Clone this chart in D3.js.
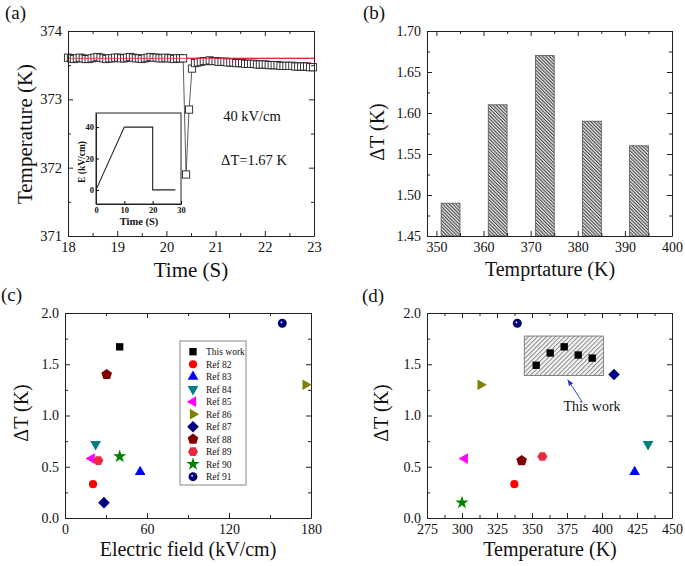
<!DOCTYPE html>
<html>
<head>
<meta charset="utf-8">
<script src="https://cdn.jsdelivr.net/npm/d3@7"></script>
<style>
  body { margin: 0; background: #fff; }
  svg text { font-family: 'Liberation Serif', 'Times New Roman', serif; fill: #111; }
</style>
</head>
<body>
<svg id="fig" width="685" height="566"></svg>
<script>
// ---- (a) temperature vs time, sampled every aStep seconds from aStart
const aStart = 18.0, aStep = 0.06;
const aTemps = [
  373.61, 373.60, 373.59, 373.60, 373.61, 373.60, 373.59, 373.59, 373.60, 373.61,
  373.62, 373.61, 373.60, 373.59, 373.60, 373.60, 373.61, 373.61, 373.60, 373.60,
  373.61, 373.62, 373.61, 373.60, 373.60, 373.59, 373.60, 373.61, 373.62, 373.61,
  373.61, 373.60, 373.60, 373.61, 373.60, 373.60, 373.59, 373.60, 373.60, 373.60,
  371.90, 372.85, 373.45,
  373.53, 373.54, 373.55, 373.56, 373.56, 373.57, 373.56, 373.56, 373.55, 373.55,
  373.55, 373.54, 373.54, 373.54, 373.53, 373.53, 373.53, 373.52, 373.52, 373.52,
  373.52, 373.51, 373.51, 373.51, 373.51, 373.50, 373.50, 373.50, 373.50, 373.49,
  373.49, 373.49, 373.49, 373.49, 373.48, 373.48, 373.48, 373.48, 373.48, 373.47, 373.47
];
const aBaseline = 373.6;
const aXTicks = [18, 19, 20, 21, 22, 23];
const aYTicks = [371, 372, 373, 374];

// inset: applied field profile
const insetTime = [0, 10, 20, 20, 28];
const insetField = [0, 40, 40, 0, 0];
const insetXTicks = [0, 10, 20, 30];
const insetYTicks = [0, 20, 40];

// ---- (b) ΔT at each temperature
const bTemps = [353, 363, 373, 383, 393];
const bDeltaT = [1.49, 1.61, 1.67, 1.59, 1.56];
const bXTicks = [350, 360, 370, 380, 390, 400];
const bYTicks = [1.45, 1.50, 1.55, 1.60, 1.65, 1.70];

// ---- (c) & (d) comparison with literature
const refNames = ["Ref 82", "Ref 83", "Ref 84", "Ref 85", "Ref 86", "Ref 87", "Ref 88", "Ref 89", "Ref 90", "Ref 91"];
const refShapes = ["circle", "up", "down", "left", "right", "diamond", "pentagon", "hexagon", "star", "sphere"];
const refColors = ["#ff0000", "#0000ff", "#008080", "#ff00ff", "#808000", "#000080", "#800000", "#e8293f", "#008000", "#000080"];
const refField = [20.5, 55, 22.4, 19.5, 176, 28.5, 30.5, 24.4, 40, 159];
const refDeltaTc = [0.33, 0.45, 0.72, 0.58, 1.30, 0.15, 1.40, 0.56, 0.60, 1.90];
const refTemp = [337.4, 423.3, 432.9, 302, 313.3, 408.6, 342.6, 357.4, 300, 339.5];
const refDeltaTd = [0.33, 0.45, 0.72, 0.58, 1.30, 1.40, 0.56, 0.60, 0.15, 1.90];
const workField = 40, workDeltaT = 1.67;
const cXTicks = [0, 60, 120, 180];
const cYTicks = [0, 0.5, 1.0, 1.5, 2.0];
const dXTicks = [275, 300, 325, 350, 375, 400, 425, 450];

const SERIF = "'Liberation Serif', 'Times New Roman', serif";
const svg = d3.select("#fig");
const defs = svg.append("defs");

// hatch for the bars in (b)
const hb = defs.append("pattern").attr("id", "hatchB").attr("patternUnits", "userSpaceOnUse")
  .attr("width", 2.4).attr("height", 10).attr("patternTransform", "rotate(-45)");
hb.append("rect").attr("width", 2.4).attr("height", 10).attr("fill", "#e6e6e6");
hb.append("rect").attr("width", 1.1).attr("height", 10).attr("fill", "#4a4a4a");
// lighter hatch for the box in (d)
const hd = defs.append("pattern").attr("id", "hatchD").attr("patternUnits", "userSpaceOnUse")
  .attr("width", 3.2).attr("height", 10).attr("patternTransform", "rotate(45)");
hd.append("rect").attr("width", 3.2).attr("height", 10).attr("fill", "#f4f4f4");
hd.append("rect").attr("width", 1).attr("height", 10).attr("fill", "#8a8a8a");
// shaded sphere: navy with a small highlight
const sg = defs.append("radialGradient").attr("id", "sphere").attr("cx", "40%").attr("cy", "40%").attr("r", "55%");
sg.append("stop").attr("offset", "0%").attr("stop-color", "#ffffff");
sg.append("stop").attr("offset", "10%").attr("stop-color", "#d0d0f0");
sg.append("stop").attr("offset", "28%").attr("stop-color", "#000090");
sg.append("stop").attr("offset", "100%").attr("stop-color", "#000060");

// polygon path with n corners, radius r, first corner at angle a (deg)
function poly(n, r, a) {
  const pts = d3.range(n).map(i => {
    const t = (a + i * 360 / n) * Math.PI / 180;
    return [r * Math.cos(t), r * Math.sin(t)];
  });
  return "M" + pts.join("L") + "Z";
}

function marker(g, kind, color, cx, cy) {
  let p;
  switch (kind) {
    case "square": p = poly(4, 5.2, 45); break;
    case "circle": p = d3.symbol(d3.symbolCircle, 52)(); break;
    case "up": p = poly(3, 6.2, -90); break;
    case "down": p = poly(3, 6.2, 90); break;
    case "left": p = poly(3, 6.2, 180); break;
    case "right": p = poly(3, 6.2, 0); break;
    case "diamond": p = poly(4, 5.8, -90); break;
    case "pentagon": p = poly(5, 5.6, -90); break;
    case "hexagon": p = poly(6, 5, 0); break;
    case "star": p = d3.symbol(d3.symbolStar, 55)(); break;
    case "sphere": p = d3.symbol(d3.symbolCircle, 62)(); break;
  }
  g.append("path").attr("d", p)
    .attr("transform", `translate(${cx},${cy})`)
    .attr("fill", kind === "sphere" ? "url(#sphere)" : color);
}

// box with inward ticks on all four sides, labels on bottom and left
function frame(g, x, y, xt, xm, yt, ym, xf, yf, fs) {
  const [x0, x1] = x.range(), [y0, y1] = y.range();
  const sides = [
    [d3.axisBottom(x), `translate(0,${y0})`, xt, xm, xf],
    [d3.axisTop(x), `translate(0,${y1})`, xt, xm, null],
    [d3.axisLeft(y), `translate(${x0},0)`, yt, ym, yf],
    [d3.axisRight(y), `translate(${x1},0)`, yt, ym, null]
  ];
  sides.forEach(([ax, tr, major, minor, fmt]) => {
    const a = g.append("g").attr("transform", tr)
      .call(ax.tickValues(major).tickSizeInner(-5).tickSizeOuter(0).tickPadding(6)
        .tickFormat(fmt ? fmt : () => ""));
    a.attr("font-family", SERIF);
    a.select(".domain").attr("stroke", "#222");
    a.selectAll(".tick line").attr("stroke", "#222");
    a.selectAll("text").attr("font-size", fs || 14).attr("fill", "#111");
    if (minor) {
      const m = g.append("g").attr("transform", tr)
        .call(ax.tickValues(minor).tickSizeInner(-3).tickFormat(() => ""));
      m.select(".domain").remove();
      m.selectAll(".tick line").attr("stroke", "#222");
    }
  });
}

function label(txt, x, y, size, opts) {
  const t = svg.append("text").attr("x", x).attr("y", y).attr("font-size", size)
    .attr("font-family", SERIF)
    .attr("text-anchor", (opts && opts.anchor) || "middle").text(txt);
  if (opts && opts.rotate) t.attr("transform", `rotate(-90,${x},${y})`);
  if (opts && opts.bold) t.attr("font-weight", "bold");
  return t;
}

// ================= (a)
{
  const g = svg.append("g");
  const x = d3.scaleLinear().domain([18, 23]).range([68, 314]);
  const y = d3.scaleLinear().domain([371, 374]).range([236, 31]);
  const pts = aTemps.map((v, i) => [aStart + i * aStep, v]);

  g.append("line").attr("x1", x(18)).attr("x2", x(23))
    .attr("y1", y(aBaseline)).attr("y2", y(aBaseline))
    .attr("stroke", "#e03030").attr("stroke-width", 1.2);
  g.append("path").datum(pts)
    .attr("d", d3.line().x(d => x(d[0])).y(d => y(d[1])))
    .attr("fill", "none").attr("stroke", "#333").attr("stroke-width", 0.8);
  g.selectAll("rect.pt").data(pts).enter().append("rect").attr("class", "pt")
    .attr("x", d => x(d[0]) - 3.6).attr("y", d => y(d[1]) - 3.6)
    .attr("width", 7.2).attr("height", 7.2)
    .attr("fill", "#fff").attr("stroke", "#222").attr("stroke-width", 0.9);
  // baseline shows through the squares in the original
  g.append("line").attr("x1", x(18)).attr("x2", x(23))
    .attr("y1", y(aBaseline)).attr("y2", y(aBaseline))
    .attr("stroke", "#e03030").attr("stroke-width", 1).attr("opacity", 0.8);

  frame(g, x, y, aXTicks, d3.range(18.5, 23, 1), aYTicks, [371.5, 372.5, 373.5],
    d3.format("d"), d3.format("d"), 14.5);

  // inset
  const ix = d3.scaleLinear().domain([0, 30]).range([96, 181]);
  const iy = d3.scaleLinear().domain([-9, 49]).range([204, 113]);
  g.append("rect").attr("x", 96).attr("y", 113).attr("width", 85).attr("height", 91)
    .attr("fill", "#fff").attr("stroke", "#222");
  const ia = g.append("g").attr("transform", "translate(0,204)")
    .call(d3.axisBottom(ix).tickValues(insetXTicks).tickSizeInner(-3).tickSizeOuter(0).tickPadding(3));
  const ib = g.append("g").attr("transform", "translate(96,0)")
    .call(d3.axisLeft(iy).tickValues(insetYTicks).tickSizeInner(-3).tickSizeOuter(0).tickPadding(2));
  [ia, ib].forEach(a => {
    a.attr("font-family", SERIF);
    a.select(".domain").attr("stroke", "#222");
    a.selectAll("text").attr("font-size", 8.5).attr("font-weight", "bold");
  });
  g.append("path").datum(d3.zip(insetTime, insetField))
    .attr("d", d3.line().x(d => ix(d[0])).y(d => iy(d[1])))
    .attr("fill", "none").attr("stroke", "#222").attr("stroke-width", 1.1);
  label("Time (S)", 139, 225, 10.5, { bold: true });
  label("E (kV/cm)", 85, 162, 9.5, { bold: true, rotate: true });

  label("40 kV/cm", 252, 121, 14.5);
  label("\u0394T=1.67 K", 254, 165, 14.5);
  label("Time (S)", 191, 277, 21);
  label("Temperature (K)", 32, 134, 21, { rotate: true });
  label("(a)", 5, 19, 19, { anchor: "start" });
}

// ================= (b)
{
  const g = svg.append("g");
  const x = d3.scaleLinear().domain([348, 400]).range([427, 672]);
  const y = d3.scaleLinear().domain([1.45, 1.70]).range([236, 31]);
  const w = x(4) - x(0);
  g.selectAll("rect.bar").data(d3.zip(bTemps, bDeltaT)).enter().append("rect")
    .attr("x", d => x(d[0]) - w / 2).attr("width", w)
    .attr("y", d => y(d[1])).attr("height", d => y(1.45) - y(d[1]))
    .attr("fill", "url(#hatchB)").attr("stroke", "#555").attr("stroke-width", 0.8);
  frame(g, x, y, bXTicks, d3.range(355, 400, 10), bYTicks, d3.range(1.475, 1.7, 0.05),
    d3.format("d"), d3.format(".2f"), 14);
  label("\u0394T (K)", 384, 132, 20, { rotate: true });
  label("Temprtature (K)", 550, 276, 20);
  label("(b)", 363, 19, 19, { anchor: "start" });
}

// ================= (c)
{
  const g = svg.append("g");
  const x = d3.scaleLinear().domain([0, 180]).range([65, 311]);
  const y = d3.scaleLinear().domain([0, 2]).range([518, 313]);
  frame(g, x, y, cXTicks, [30, 90, 150], cYTicks, [0.25, 0.75, 1.25, 1.75],
    d3.format("d"), d3.format(".1f"), 14);
  marker(g, "square", "#000", x(workField), y(workDeltaT));
  refNames.forEach((n, i) => marker(g, refShapes[i], refColors[i], x(refField[i]), y(refDeltaTc[i])));

  // legend
  const lg = g.append("g");
  lg.append("rect").attr("x", 180).attr("y", 341).attr("width", 66).attr("height", 144)
    .attr("fill", "#fff").attr("stroke", "#888");
  const names = ["This work"].concat(refNames);
  const shapes = ["square"].concat(refShapes);
  const colors = ["#000"].concat(refColors);
  names.forEach((n, i) => {
    const yy = 351.7 + i * 12.5;
    marker(lg, shapes[i], colors[i], 193, yy);
    lg.append("text").attr("x", 206).attr("y", yy + 3.5).attr("font-size", 9.5)
      .attr("font-family", SERIF).text(n);
  });
  label("\u0394T (K)", 28, 413, 20, { rotate: true });
  label("Electric field (kV/cm)", 188, 556, 20);
  label("(c)", 1, 301, 19, { anchor: "start" });
}

// ================= (d)
{
  const g = svg.append("g");
  const x = d3.scaleLinear().domain([275, 450]).range([427, 672]);
  const y = d3.scaleLinear().domain([0, 2]).range([518, 313]);
  frame(g, x, y, dXTicks, d3.range(287.5, 450, 25), cYTicks, [0.25, 0.75, 1.25, 1.75],
    d3.format("d"), d3.format(".1f"), 14);
  // shaded box around this work
  g.append("rect").attr("x", x(344.5)).attr("y", y(1.775))
    .attr("width", x(401) - x(344.5)).attr("height", y(1.39) - y(1.775))
    .attr("fill", "url(#hatchD)").attr("stroke", "#777").attr("stroke-width", 0.9);
  bTemps.forEach((t, i) => marker(g, "square", "#000", x(t), y(bDeltaT[i])));
  refNames.forEach((n, i) => marker(g, refShapes[i], refColors[i], x(refTemp[i]), y(refDeltaTd[i])));

  // arrow to the box
  const ax0 = x(386), ay0 = y(1.13), ax1 = x(375.5), ay1 = y(1.35);
  g.append("line").attr("x1", ax0).attr("y1", ay0).attr("x2", ax1).attr("y2", ay1)
    .attr("stroke", "#2233cc").attr("stroke-width", 0.9);
  const ang = Math.atan2(ay1 - ay0, ax1 - ax0);
  const head = [[0, 0], [-6, -2.5], [-6, 2.5]].map(([px, py]) =>
    [ax1 + px * Math.cos(ang) - py * Math.sin(ang), ay1 + px * Math.sin(ang) + py * Math.cos(ang)]);
  g.append("path").attr("d", "M" + head.join("L") + "Z").attr("fill", "#2233cc");
  label("This work", 592, 411, 14);

  label("\u0394T (K)", 388, 413, 20, { rotate: true });
  label("Temperature (K)", 550, 556, 20);
  label("(d)", 362, 302, 19, { anchor: "start" });
}
</script>
</body>
</html>
